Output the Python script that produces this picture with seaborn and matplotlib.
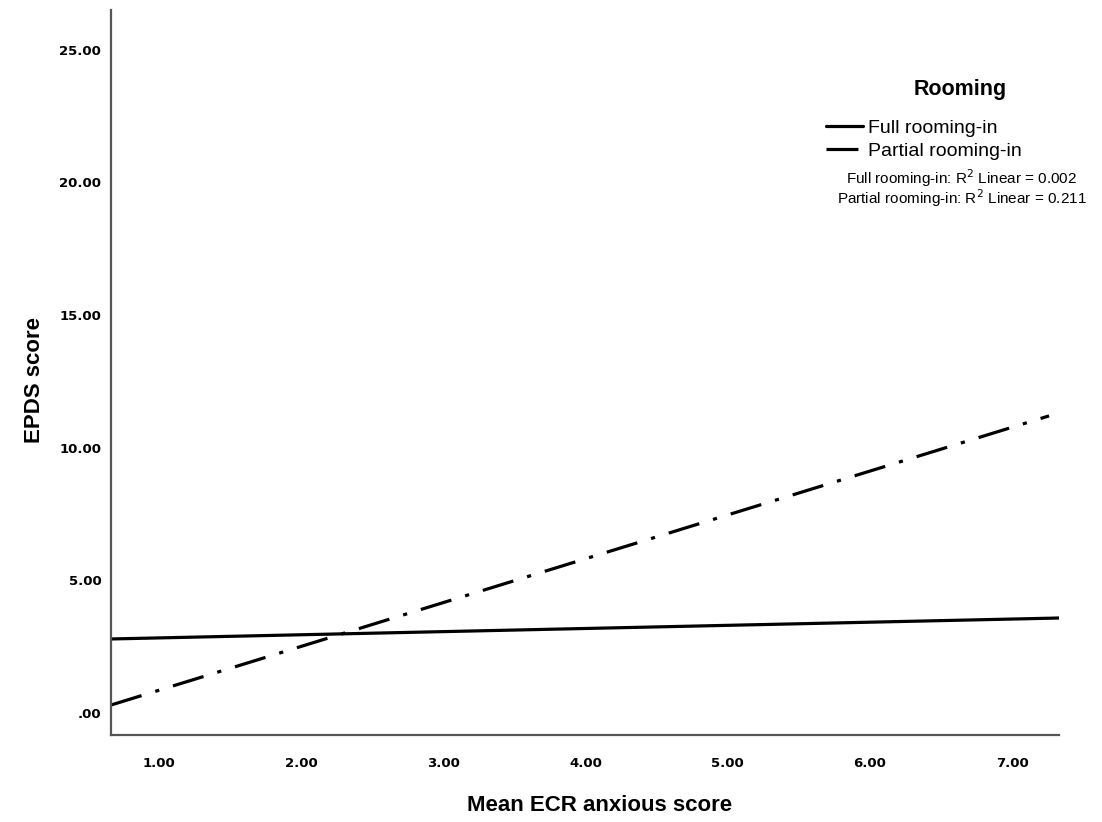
import matplotlib
matplotlib.use("Agg")
import matplotlib.pyplot as plt
import pandas as pd
import seaborn as sns

# Fitted regression lines (end points)
groups = ["Full rooming-in", "Partial rooming-in"]
full_x = [0.66, 7.33]
full_y = [2.79, 3.58]
partial_x = [0.66, 7.26]
partial_y = [0.30, 11.20]
r2_values = ["0.002", "0.211"]

x_ticks = [1, 2, 3, 4, 5, 6, 7]
y_ticks = [0, 5, 10, 15, 20, 25]


def build_frame():
    """Long table with one row per line end point"""
    df_full = pd.DataFrame({"x": full_x, "y": full_y, "Rooming": groups[0]})
    df_part = pd.DataFrame({"x": partial_x, "y": partial_y, "Rooming": groups[1]})
    return pd.concat([df_full, df_part], ignore_index=True)


def draw_chart():
    sns.set_theme(style="white")
    plt.rcParams["font.family"] = ["DejaVu Sans"]
    for key in ["text.color", "axes.labelcolor", "xtick.color", "ytick.color"]:
        plt.rcParams[key] = "black"

    df = build_frame()

    W, H = 1102, 822
    fig = plt.figure(figsize=(W / 100, H / 100), dpi=100)
    ax = fig.add_axes([111 / W, 1 - 735 / H, (1059 - 111) / W, (735 - 10) / H])

    sns.lineplot(data=df, x="x", y="y", hue="Rooming", style="Rooming",
                 palette={groups[0]: "black", groups[1]: "black"},
                 dashes={groups[0]: "", groups[1]: (10, 4.5, 1.3, 4.5)},
                 linewidth=2.3, ax=ax, legend=True)

    ax.set_xlim(0.66, 7.33)
    ax.set_ylim(-0.83, 26.5)
    ax.set_xticks(x_ticks)
    ax.set_xticklabels([f"{v:.2f}" for v in x_ticks], fontsize=9.5,
                       fontweight="bold")
    ax.set_yticks(y_ticks)
    ax.set_yticklabels([".00" if v == 0 else f"{v:.2f}" for v in y_ticks],
                       fontsize=9.5, fontweight="bold")
    ax.tick_params(axis="y", length=0, pad=7)
    ax.tick_params(axis="x", length=0, pad=16)

    for side in ["top", "right"]:
        ax.spines[side].set_visible(False)
    for side in ["left", "bottom"]:
        ax.spines[side].set_color("#555555")
        ax.spines[side].set_linewidth(1.6)

    ax.set_xlabel("")
    ax.set_ylabel("")
    label_font = ["Liberation Sans", "DejaVu Sans"]
    fig.text(600 / W, 1 - 805 / H, "Mean ECR anxious score", fontsize=16,
             fontweight="bold", family=label_font, ha="center", va="center")
    fig.text(35 / W, 1 - 380 / H, "EPDS score", fontsize=16,
             fontweight="bold", family=label_font, ha="center", va="center",
             rotation=90)

    # Legend
    handles, labels = ax.get_legend_handles_labels()
    ax.legend(handles, labels, loc="upper left",
              bbox_to_anchor=(826 / W, 1 - 119 / H),
              bbox_transform=fig.transFigure, borderaxespad=0, borderpad=0,
              frameon=False, handlelength=1.9, handletextpad=0.25,
              labelspacing=0.3, prop={"family": label_font, "size": 14})
    fig.text(960 / W, 1 - 90 / H, "Rooming", fontsize=15.5, fontweight="bold",
             family=label_font, ha="center", va="center")

    fig.text(962 / W, 1 - 178 / H,
             f"{groups[0]}: R$^2$ Linear = {r2_values[0]}",
             ha="center", va="center", fontsize=11, family=label_font)
    fig.text(962 / W, 1 - 198 / H,
             f"{groups[1]}: R$^2$ Linear = {r2_values[1]}",
             ha="center", va="center", fontsize=11, family=label_font)

    fig.savefig("out.png", dpi=100)
    return fig


if __name__ == "__main__":
    draw_chart()
